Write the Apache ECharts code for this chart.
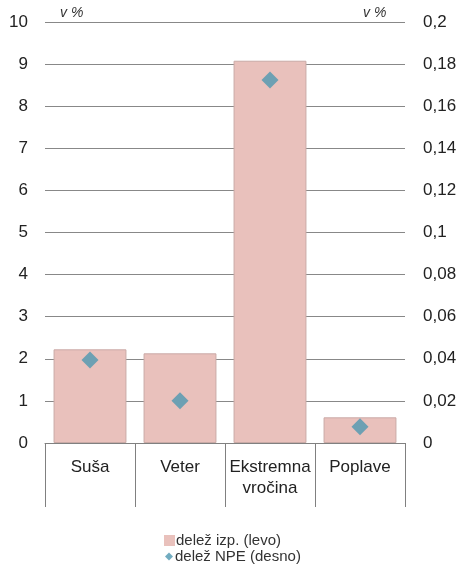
<!DOCTYPE html>
<html><head><meta charset="utf-8">
<script src="https://cdn.jsdelivr.net/npm/echarts@6/dist/echarts.min.js"></script>
<style>html,body{margin:0;padding:0;background:#fff}#c{width:460px;height:568px}</style>
</head><body><div id="c"></div>
<script>
var categories = ['Suša', 'Veter', 'Ekstremna\nvročina', 'Poplave'];
var delezIzp = [2.225, 2.13, 9.08, 0.61];
var delezNPE = [0.0394, 0.0201, 0.1724, 0.0077];
var leftTicks = {min: 0, max: 10, interval: 1};
var rightTicks = {min: 0, max: 0.2, interval: 0.02};
var seriesNames = ['delež izp. (levo)', 'delež NPE (desno)'];
var unitLabel = 'v %';

var font = 'Liberation Sans, Arial, sans-serif';
var chart = echarts.init(document.getElementById('c'));
chart.setOption({
  animation: false,
  backgroundColor: '#fff',
  grid: {left: 45, right: 55, top: 22, bottom: 125},
  graphic: [
    {type: 'text', left: 60, top: 6, style: {text: unitLabel, font: 'italic 14px ' + font, fill: '#333'}},
    {type: 'text', left: 363, top: 6, style: {text: unitLabel, font: 'italic 14px ' + font, fill: '#333'}}
  ],
  legend: [
    {data: [seriesNames[0]], orient: 'vertical', left: 164, top: 532, padding: 0, itemWidth: 11, itemHeight: 11,
     icon: 'rect', itemStyle: {borderWidth: 0},
     textStyle: {fontFamily: font, fontSize: 15, lineHeight: 17, color: '#333', padding: [0, 0, 0, -4]}},
    {data: [seriesNames[1]], orient: 'vertical', left: 165, top: 548, padding: 0, itemWidth: 8, itemHeight: 8,
     icon: 'diamond',
     textStyle: {fontFamily: font, fontSize: 15, lineHeight: 17, color: '#333', padding: [0, 0, 0, -3]}}
  ],
  xAxis: {
    type: 'category', data: categories,
    axisLine: {lineStyle: {color: '#808080', width: 1}},
    axisTick: {show: true, length: 64, interval: 0, lineStyle: {color: '#808080'}},
    axisLabel: {interval: 0, margin: 14, fontFamily: font, fontSize: 17, color: '#222', lineHeight: 21}
  },
  yAxis: [
    {type: 'value', min: leftTicks.min, max: leftTicks.max, interval: leftTicks.interval,
     axisLine: {show: false}, axisTick: {show: false},
     splitLine: {lineStyle: {color: '#888', width: 1}},
     axisLabel: {margin: 17, fontFamily: font, fontSize: 17, color: '#222'}},
    {type: 'value', min: rightTicks.min, max: rightTicks.max, interval: rightTicks.interval,
     axisLine: {show: false}, axisTick: {show: false}, splitLine: {show: false},
     axisLabel: {margin: 18, fontFamily: font, fontSize: 17, color: '#222',
       formatter: function (v) { return String(parseFloat(v.toFixed(4))).replace('.', ','); }}}
  ],
  series: [
    {name: seriesNames[0], type: 'bar', yAxisIndex: 0, data: delezIzp, barCategoryGap: '19%',
     itemStyle: {color: '#E9C1BC', borderColor: '#C9AAA6', borderWidth: 1}},
    {name: seriesNames[1], type: 'scatter', yAxisIndex: 1, data: delezNPE, symbol: 'diamond', symbolSize: 17,
     itemStyle: {color: '#4E97B0'}, z: 5}
  ]
});
</script></body></html>
